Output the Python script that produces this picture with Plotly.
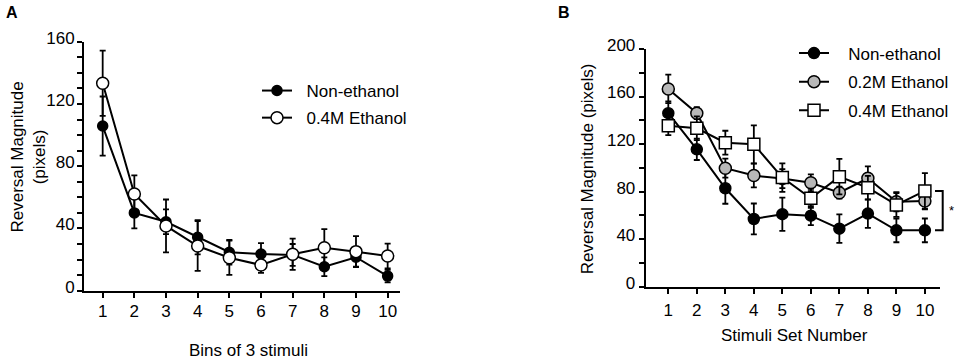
import plotly.graph_objects as go

# ---------------- data ----------------
bins = [1, 2, 3, 4, 5, 6, 7, 8, 9, 10]

# Panel A
a_non_mean = [105.8, 50.0, 44.3, 34.3, 24.7, 23.6, 23.0, 15.4, 21.5, 9.4]
a_non_err = [19, 10, 8, 11, 8, 7, 7, 6, 6, 4]
a_e04_mean = [133.3, 62.1, 41.6, 28.7, 21.2, 16.5, 23.4, 27.6, 25.1, 22.3]
a_e04_err = [21, 12, 17, 16, 11, 5, 10, 12, 10, 8]

# Panel B
sets = [1, 2, 3, 4, 5, 6, 7, 8, 9, 10]
b_non_mean = [146.0, 115.6, 82.8, 57.0, 61.0, 59.8, 48.8, 61.5, 47.4, 47.4]
b_non_err = [10, 9, 13, 13, 14, 8, 12, 12, 10, 10]
b_e02_mean = [166.4, 146.0, 99.7, 93.5, 91.0, 87.5, 79.1, 91.2, 71.5, 72.1]
b_e02_err = [12, 5, 8, 10, 8, 7, 5, 10, 8, 7]
b_e04_mean = [135.5, 133.3, 121.2, 119.8, 91.8, 74.4, 92.6, 83.3, 68.8, 80.6]
b_e04_err = [8, 10, 10, 16, 12, 8, 15, 10, 10, 15]

a_yticks = [0, 40, 80, 120, 160]
b_yticks = [0, 40, 80, 120, 160, 200]

names_a = ["Non-ethanol", "0.4M Ethanol"]
names_b = ["Non-ethanol", "0.2M Ethanol", "0.4M Ethanol"]

FONT = "Arial, Liberation Sans, Helvetica, sans-serif"
NB = "\u00a0"

fig = go.Figure()


def add(x, y, e, name, xa, ya, legend, symbol, fill, size, group):
    fig.add_trace(go.Scatter(
        x=x, y=y, mode="lines+markers", name=name,
        xaxis=xa, yaxis=ya, legend=legend, legendgroup=group,
        line=dict(color="black", width=2),
        marker=dict(symbol=symbol, color=fill, size=size,
                    line=dict(color="black", width=1.5)),
        error_y=dict(type="data", array=e, visible=True, color="black",
                     thickness=1.8, width=3),
        cliponaxis=False,
    ))


add(bins, a_non_mean, a_non_err, NB * 2 + names_a[0], "x", "y", "legend",
    "circle", "black", 10, "a1")
add(bins, a_e04_mean, a_e04_err, NB * 2 + names_a[1], "x", "y", "legend",
    "circle", "white", 12, "a2")

add(sets, b_non_mean, b_non_err, NB * 3 + names_b[0], "x2", "y2", "legend2",
    "circle", "black", 11, "b1")
add(sets, b_e02_mean, b_e02_err, NB * 3 + names_b[1], "x2", "y2", "legend2",
    "circle", "#b8b8b8", 12, "b2")
add(sets, b_e04_mean, b_e04_err, NB * 3 + names_b[2], "x2", "y2", "legend2",
    "square", "white", 12, "b3")

W, H = 957, 361

axis_common = dict(
    showline=True, linecolor="black", linewidth=2, ticks="outside",
    tickcolor="black", tickwidth=1.8, ticklen=5, showgrid=False,
    zeroline=False, tickfont=dict(family=FONT, size=17, color="black"),
)

fig.update_layout(
    width=W, height=H,
    margin=dict(l=0, r=0, t=0, b=0, autoexpand=False),
    paper_bgcolor="white", plot_bgcolor="white",
    font=dict(family=FONT, color="black"),
    xaxis=dict(domain=[84 / W, 400 / W], range=[0.41, 10.39],
               tickvals=bins, anchor="y", ticklabelstandoff=-1,
               **axis_common),
    yaxis=dict(domain=[(H - 290.7) / H, (H - 41.7) / H], range=[0, 160],
               tickvals=a_yticks, anchor="x", ticklabelshift=-4,
               ticklabelstandoff=-1,
               minor=dict(dtick=10, ticks="outside", ticklen=5,
                          tickcolor="black", tickwidth=1.5),
               **axis_common),
    xaxis2=dict(domain=[645.7 / W, 940 / W], range=[0.207, 10.53],
                tickvals=sets, anchor="y2", ticklabelstandoff=2,
                **axis_common),
    yaxis2=dict(domain=[(H - 286.7) / H, (H - 49) / H], range=[0, 200],
                tickvals=b_yticks, anchor="x2", ticklabelshift=-4,
                minor=dict(dtick=20, ticks="outside", ticklen=5,
                           tickcolor="black", tickwidth=1.5),
                **axis_common),
    legend=dict(x=257 / W, y=(H - 73) / H, xanchor="left", yanchor="top",
                bgcolor="rgba(0,0,0,0)", borderwidth=0, tracegroupgap=2,
                font=dict(family=FONT, size=17, color="black")),
    legend2=dict(x=794 / W, y=(H - 35.5) / H, xanchor="left", yanchor="top",
                 bgcolor="rgba(0,0,0,0)", borderwidth=0, tracegroupgap=3.5,
                 font=dict(family=FONT, size=17, color="black")),
    showlegend=True,
)

ann_font = dict(family=FONT, size=17, color="black")


def ann(text, x, y, **kw):
    d = dict(text=text, x=x, y=y, xref="paper", yref="paper",
             showarrow=False, xanchor="center", yanchor="middle",
             font=ann_font)
    d.update(kw)
    fig.add_annotation(**d)


ann("<b>A</b>", 11.5 / W, (H - 12.5) / H,
    font=dict(family=FONT, size=16, color="black"))
ann("<b>B</b>", 564 / W, (H - 13) / H,
    font=dict(family=FONT, size=16, color="black"))
ann("Reversal Magnitude<br>(pixels)", 28 / W, (H - 157.5) / H, textangle=-90)
ann("Reversal Magnitude (pixels)", 587.5 / W, (H - 168.7) / H, textangle=-90)
ann("Bins of 3 stimuli", 248 / W, (H - 350) / H)
ann("Stimuli Set Number", 794.7 / W, (H - 335.8) / H)

# significance bracket between last points of Non-ethanol and 0.4M Ethanol
y_top = b_e04_mean[-1] / 200
y_bot = b_non_mean[-1] / 200
bx0, bx1 = 935 / W, 942.7 / W
fig.add_shape(type="path", xref="paper", yref="y2 domain",
              path=f"M {bx0} {y_top} L {bx1} {y_top} L {bx1} {y_bot} L {bx0} {y_bot}",
              line=dict(color="black", width=2))
fig.add_annotation(text="*", xref="paper", yref="y2 domain",
                   x=951.7 / W, y=(y_top + y_bot) / 2, showarrow=False,
                   xanchor="center", yanchor="middle",
                   font=dict(family=FONT, size=13, color="black"))

fig.write_html(
    "out.html",
    config={"displayModeBar": False},
    post_script="document.body.style.margin='0';document.body.style.padding='0';",
)
